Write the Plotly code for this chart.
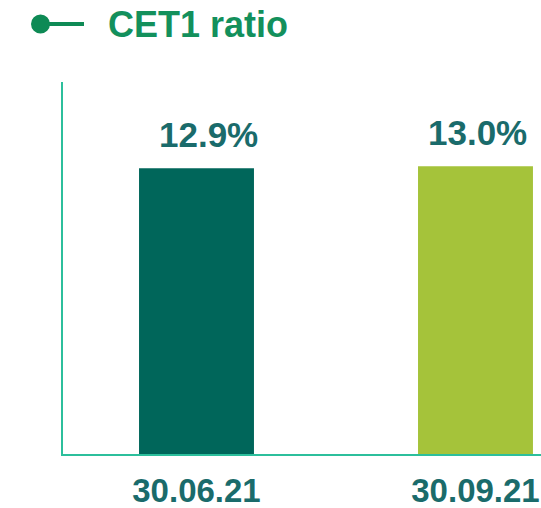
import plotly.graph_objects as go

# ---- data ----
categories = ["30.06.21", "30.09.21"]
values = [12.9, 13.0]
value_labels = ["12.9%", "13.0%"]
bar_colors = ["#00665a", "#a5c33a"]
title_text = "CET1 ratio"

W, H = 541, 508
ML, MR, MT, MB = 63, 0, 82, 54
PW, PH = W - ML - MR, H - MT - MB

def px_x(px):
    return (px - ML) / PW

def px_y(py):
    return (H - MB - py) / PH

text_color = "#1a6b6b"
axis_color = "#2cbf9c"
title_color = "#13905c"
FONT = "Liberation Sans, Arial, sans-serif"

fig = go.Figure(
    go.Bar(
        x=categories,
        y=values,
        width=0.412,
        marker=dict(color=bar_colors, line=dict(width=0)),
        hoverinfo="skip",
    )
)

label_xshift = [12, 2]
for c, v, t, dx in zip(categories, values, value_labels, label_xshift):
    fig.add_annotation(
        x=c, y=v, text="<b>%s</b>" % t, showarrow=False,
        yanchor="bottom", yshift=12, xshift=dx,
        font=dict(family=FONT, size=35, color=text_color),
    )

# title with legend-like icon
fig.add_annotation(
    xref="paper", yref="paper", x=px_x(106), y=px_y(25),
    xanchor="left", yanchor="middle", showarrow=False,
    text="<b>%s</b>" % title_text,
    font=dict(family=FONT, size=36, color=title_color),
)
fig.add_shape(type="line", xref="paper", yref="paper",
              x0=px_x(40), x1=px_x(84), y0=px_y(24), y1=px_y(24),
              line=dict(color="#0e8a55", width=4))
fig.add_shape(type="circle", xref="paper", yref="paper",
              x0=px_x(31), x1=px_x(50), y0=px_y(33.5), y1=px_y(14.5),
              fillcolor="#0e8a55", line=dict(width=0))

fig.update_layout(
    width=W, height=H,
    margin=dict(l=ML, r=MR, t=MT, b=MB, pad=0, autoexpand=False),
    paper_bgcolor="white", plot_bgcolor="white",
    showlegend=False,
    xaxis=dict(
        type="category", range=[-0.4785, 1.2348], automargin=False,
        showline=True, linecolor=axis_color, linewidth=2,
        showgrid=False, zeroline=False,
        ticks="outside", ticklen=6, tickcolor="rgba(0,0,0,0)",
        tickfont=dict(family=FONT, size=33, color=text_color),
        tickprefix="<b>", ticksuffix="</b>",
    ),
    yaxis=dict(
        range=[0, 16.8], automargin=False,
        showline=True, linecolor=axis_color, linewidth=2,
        showgrid=False, zeroline=False, showticklabels=False, ticks="",
    ),
)

fig.write_html("out.html")
